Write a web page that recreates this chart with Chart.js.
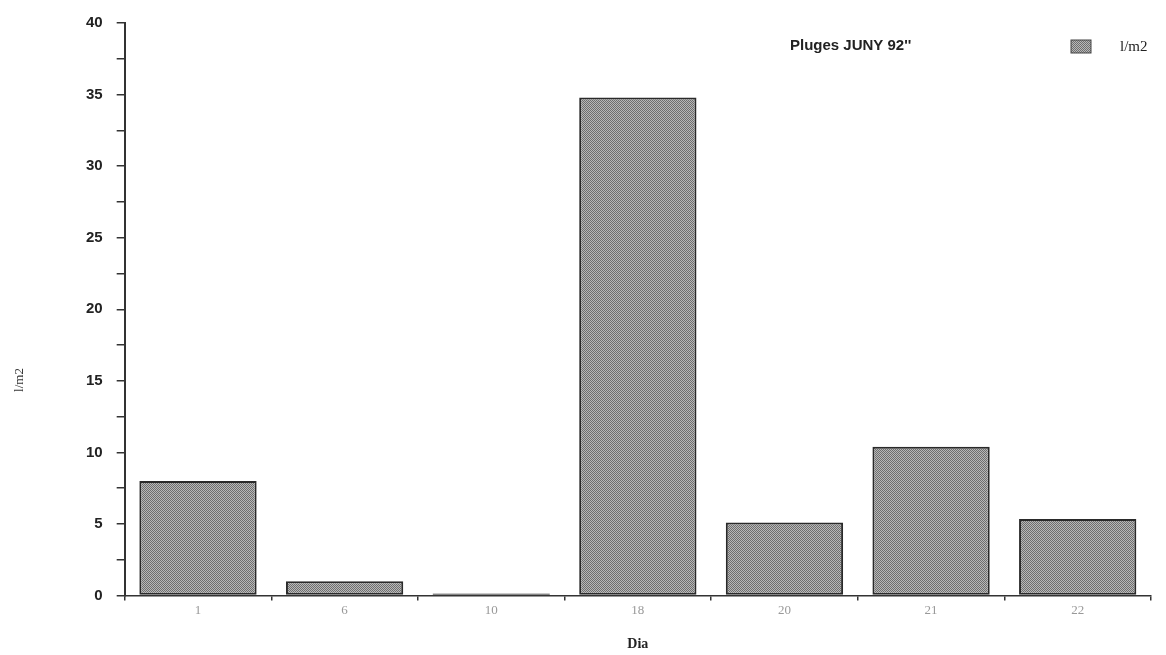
<!DOCTYPE html>
<html>
<head>
<meta charset="utf-8">
<script src="https://cdn.jsdelivr.net/npm/chart.js@4.4.1/dist/chart.umd.min.js"></script>
<style>
  html, body { margin: 0; padding: 0; background: #fff; }
  #wrap { width: 1166px; height: 655px; }
</style>
</head>
<body>
<div id="wrap"><canvas id="pluges"></canvas></div>
<script>
// dies de juny 1992 i pluja recollida
var dies = ['1', '6', '10', '18', '20', '21', '22'];
var litres = [8, 1, 0.15, 34.8, 5.1, 10.4, 5.35];
var yTicks = [0, 5, 10, 15, 20, 25, 30, 35, 40];

function makePattern(){
    var c = document.createElement('canvas');
    c.width = 4; c.height = 4;
    var g = c.getContext('2d');
    g.fillStyle = '#b8b8b8';
    g.fillRect(0, 0, 4, 4);
    g.fillStyle = '#6e6e6e';
    for (var i = 0; i < 4; i++) {
        g.fillRect(i, i, 1, 1);
        g.fillRect((i + 2) % 4, i, 1, 1);
    }
    return document.createElement('canvas').getContext('2d').createPattern(c, 'repeat');
}
var hatch = makePattern();

// title, legend and y title drawn by hand
var textPlugin = {
    id: 'textBits',
    afterDraw: function(chart){
        var ctx = chart.ctx;
        ctx.save();
        ctx.font = 'bold 15px "Liberation Sans", Arial, sans-serif';
        ctx.fillStyle = '#222';
        ctx.textBaseline = 'middle';
        ctx.fillText("Pluges JUNY 92''", 790, 46);

        ctx.fillStyle = hatch;
        ctx.fillRect(1071, 40, 20, 13);
        ctx.strokeStyle = '#444';
        ctx.lineWidth = 1;
        ctx.strokeRect(1071, 40, 20, 13);
        ctx.fillStyle = '#222';
        ctx.font = '15px "Liberation Serif", "Times New Roman", serif';
        ctx.fillText(chart.data.datasets[0].label, 1120, 47);

        ctx.translate(20, 380);
        ctx.rotate(-Math.PI / 2);
        ctx.textAlign = 'center';
        ctx.font = '13px "Liberation Serif", "Times New Roman", serif';
        ctx.fillStyle = '#333';
        ctx.fillText('l/m2', 0, 0);
        ctx.restore();
    }
};

var el = document.getElementById('pluges');
var plugesChart = new Chart(el, {
    type: 'bar',
    data: {
        labels: dies,
        datasets: [{
            label: 'l/m2',
            data: litres,
            backgroundColor: hatch,
            borderColor: '#2a2a2a',
            borderWidth: 2,
            borderSkipped: false,
            categoryPercentage: 1,
            barPercentage: 0.8
        }]
    },
    options: {
        responsive: true,
        maintainAspectRatio: false,
        animation: false,
        layout: { padding: { top: 10, right: 15, left: 72, bottom: 2 } },
        plugins: {
            tooltip: { enabled: false },
            legend: { display: false }
        },
        scales: {
            x: {
                grid: { drawOnChartArea: false, offset: true, tickLength: 5, color: '#333', lineWidth: 1.5 },
                border: { color: '#333', width: 1.5 },
                ticks: {
                    color: '#999',
                    padding: 2,
                    font: { family: '"Liberation Serif", "Times New Roman", serif', size: 13 }
                },
                title: {
                    display: true,
                    text: 'Dia',
                    color: '#222',
                    padding: { top: 16, bottom: 0 },
                    font: { family: '"Liberation Serif", "Times New Roman", serif', size: 14, weight: 'bold' }
                }
            },
            y: {
                min: 0,
                max: 40,
                grid: { drawOnChartArea: false, tickLength: 8, color: '#333', lineWidth: 1.5 },
                border: { color: '#333', width: 2 },
                ticks: {
                    stepSize: 2.5,
                    autoSkip: false,
                    color: '#222',
                    padding: 14,
                    callback: function(v){ return yTicks.indexOf(v) >= 0 ? v : ''; },
                    font: { family: '"Liberation Sans", Arial, sans-serif', size: 15, weight: 'bold' }
                }
            }
        }
    },
    plugins: [textPlugin]
});
</script>
</body>
</html>
